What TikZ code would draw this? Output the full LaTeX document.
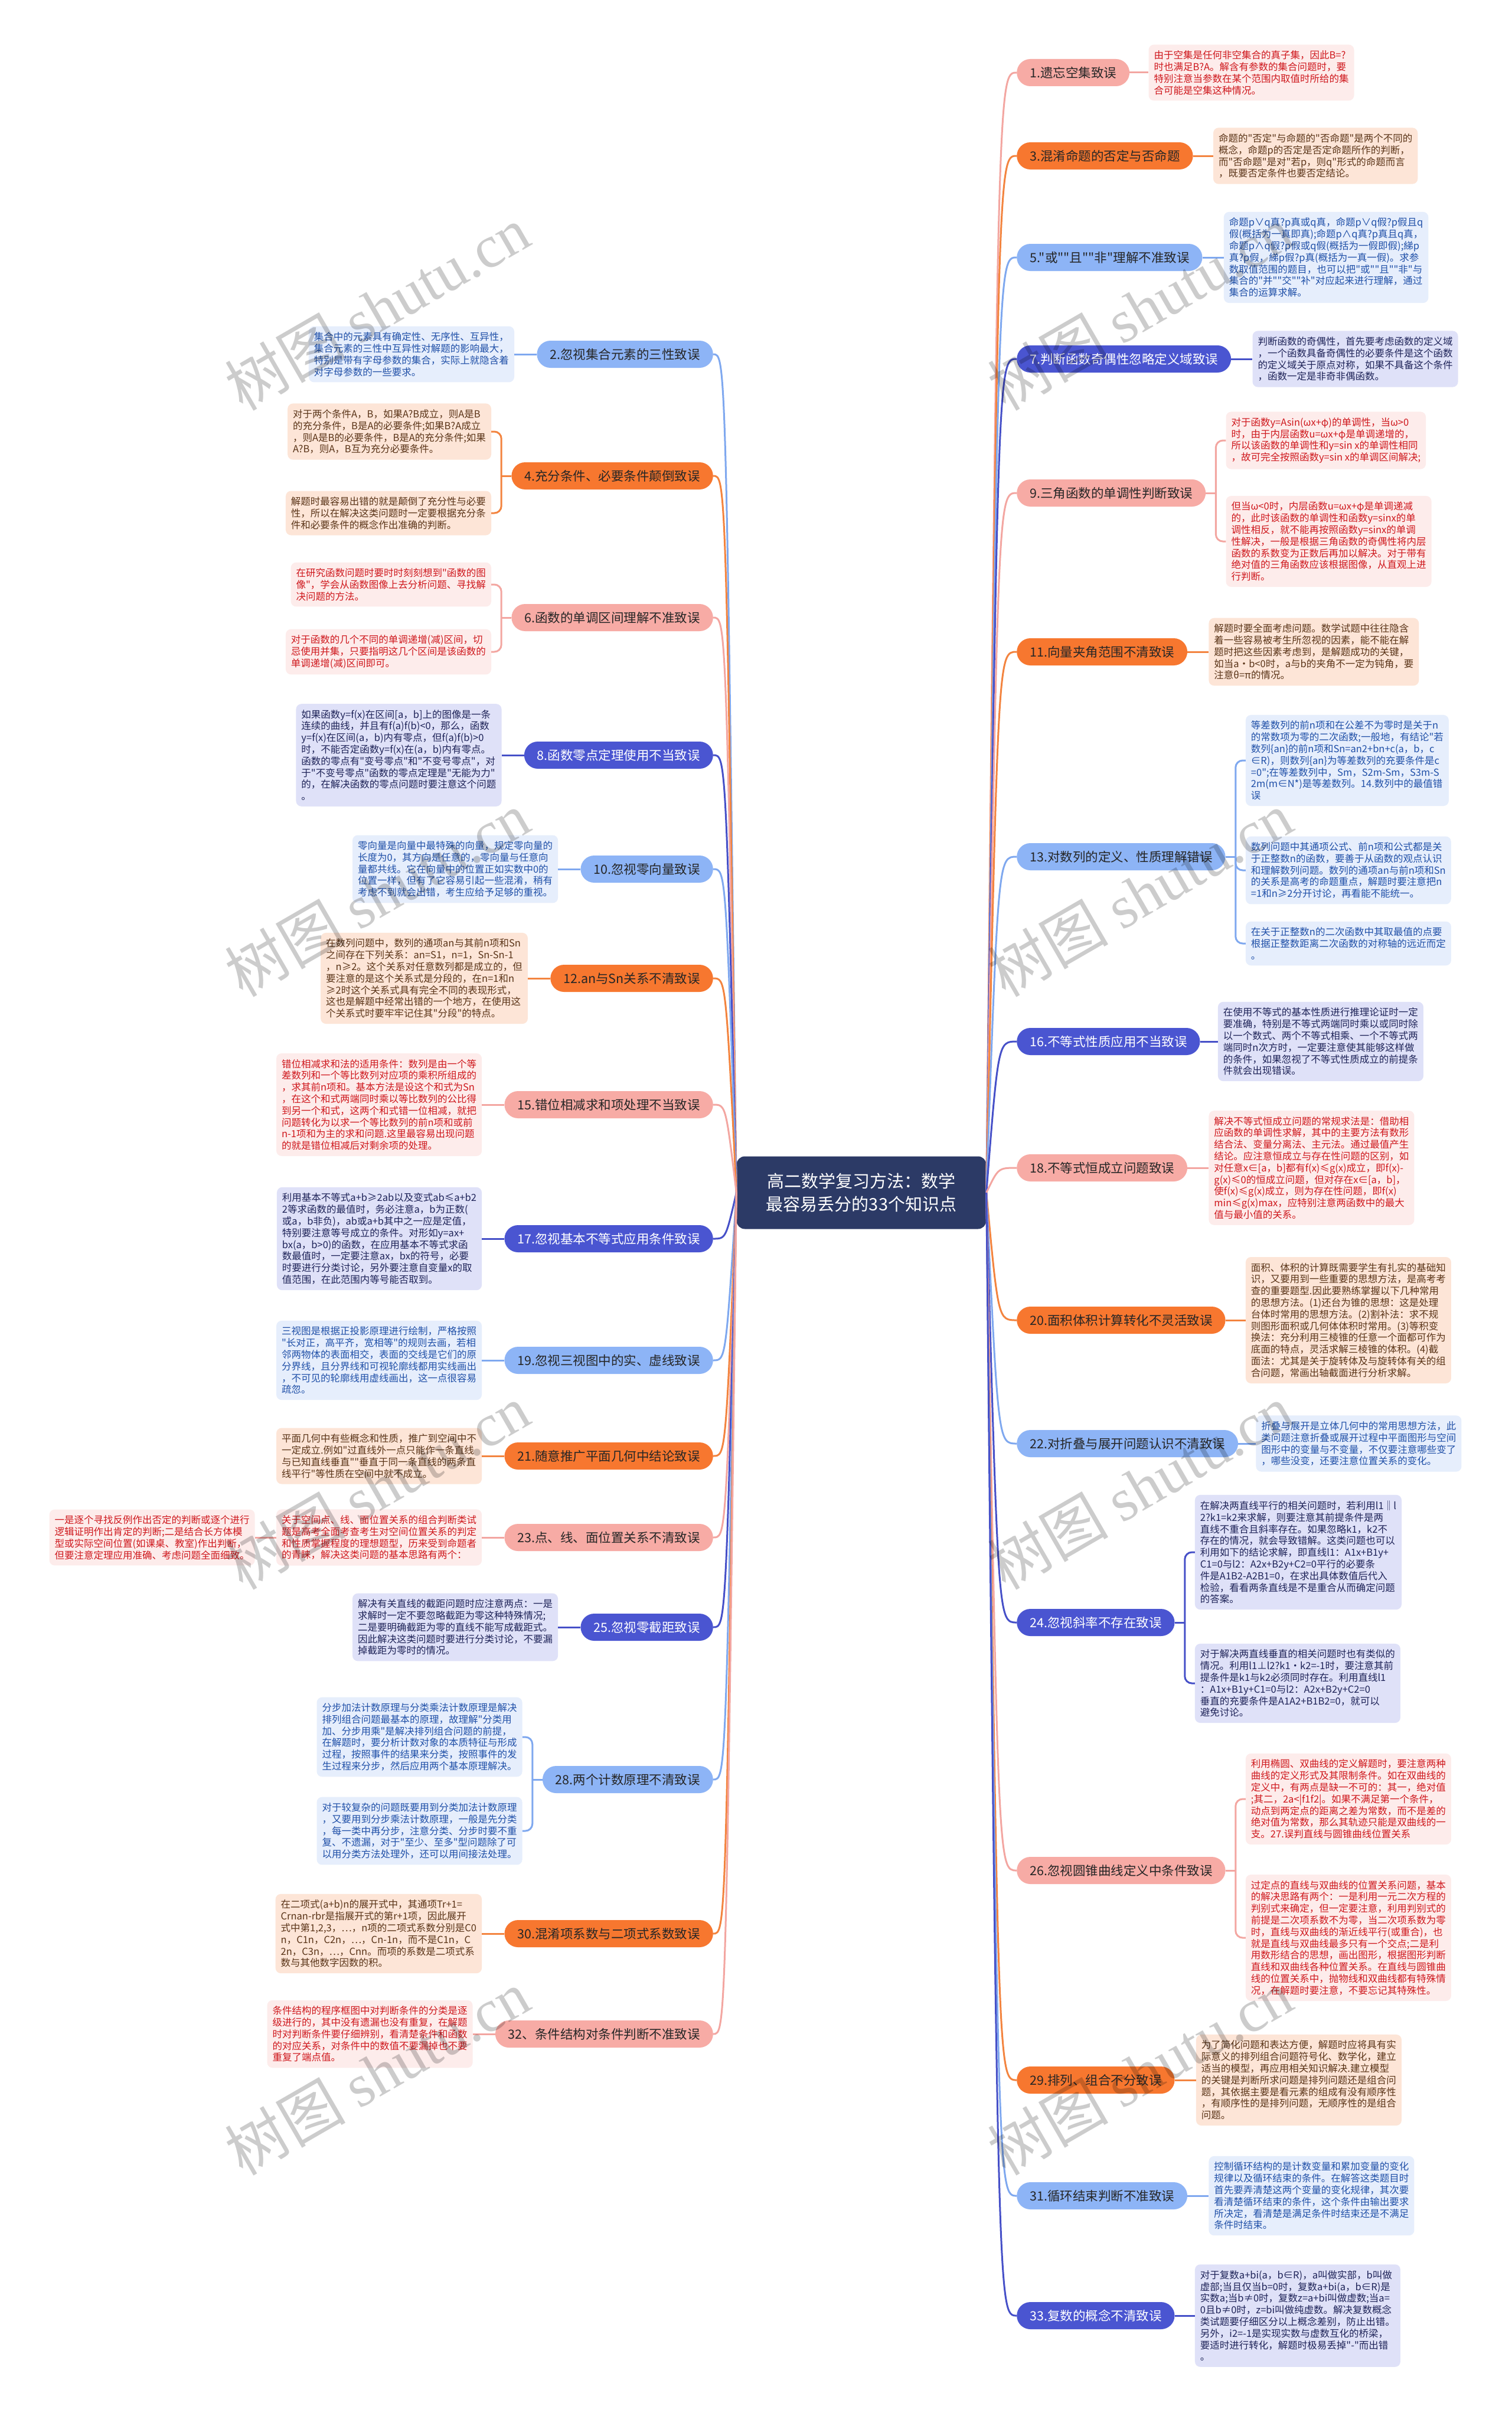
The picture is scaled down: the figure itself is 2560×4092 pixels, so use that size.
\documentclass[tikz,border=0pt]{standalone}
\usepackage{fontspec}
\setmainfont{Noto Sans CJK SC}[Ligatures=TeXOff]
\newfontfamily\wmserif{Liberation Serif}
\usetikzlibrary{calc}
\definecolor{cenF}{HTML}{2C3A66}
\definecolor{pkF}{HTML}{F7ABA5}
\definecolor{orF}{HTML}{F7772F}
\definecolor{blF}{HTML}{8DB4F6}
\definecolor{inF}{HTML}{4A55D1}
\definecolor{pkL}{HTML}{F3A6A1}
\definecolor{orL}{HTML}{F3843F}
\definecolor{blL}{HTML}{7FA8EF}
\definecolor{inL}{HTML}{4650C8}
\definecolor{pkN}{HTML}{FDECEB}
\definecolor{orN}{HTML}{FDE5D7}
\definecolor{blN}{HTML}{E6EEFC}
\definecolor{inN}{HTML}{DFE1F8}
\definecolor{pkT}{HTML}{CF181D}
\definecolor{orT}{HTML}{5A3418}
\definecolor{blT}{HTML}{2050A8}
\definecolor{inT}{HTML}{1E2358}
\definecolor{txD}{HTML}{262626}
\begin{document}
\begin{tikzpicture}[x=1pt,y=-1pt,
  br/.style={rounded corners=23pt, minimum height=46pt, inner xsep=22pt, inner ysep=4pt, font=\fontsize{21.5}{25}\selectfont},
  nt/.style={rounded corners=9pt, inner xsep=9pt, inner ysep=10pt, align=left, font=\fontsize{16.5}{19.8}\selectfont},
  brpk/.style={br, fill=pkF, text=txD},
  bror/.style={br, fill=orF, text=txD},
  brbl/.style={br, fill=blF, text=txD},
  brin/.style={br, fill=inF, text=white},
  ntpk/.style={nt, fill=pkN, text=pkT},
  ntor/.style={nt, fill=orN, text=orT},
  ntbl/.style={nt, fill=blN, text=blT},
  ntin/.style={nt, fill=inN, text=inT},
  lpk/.style={draw=pkL, line width=3pt},
  lor/.style={draw=orL, line width=3pt},
  lbl/.style={draw=blL, line width=3pt},
  lin/.style={draw=inL, line width=3pt},
  wm/.style={text=black, text opacity=0.2, font=\fontsize{102}{110}\selectfont, rotate=30}
]
\fill[white] (0,0) rectangle (2560,4092);
\useasboundingbox (0,0) rectangle (2560,4092);

% centre
\node[fill=cenF, text=white, rounded corners=14pt, minimum width=423pt, minimum height=123pt, align=center, font=\fontsize{29}{39}\selectfont] (c) at (1459,2020) {高二数学复习方法：数学\\最容易丢分的33个知识点};
\coordinate (cr) at ([xshift=20pt]c.east);
\coordinate (cl) at ([xshift=-18pt]c.west);

% ================= RIGHT =================
\node[brpk, anchor=west] (b1) at (1722,123) {1.遗忘空集致误};
\node[ntpk, anchor=west] (n1) at ([xshift=32pt]b1.east) {由于空集是任何非空集合的真子集，因此B=?\\时也满足B?A。解含有参数的集合问题时，要\\特别注意当参数在某个范围内取值时所给的集\\合可能是空集这种情况。};
\draw[lpk] (b1.east) -- (n1.west);

\node[bror, anchor=west] (b3) at (1722,264) {3.混淆命题的否定与否命题};
\node[ntor, anchor=west] (n3) at ([xshift=34pt]b3.east) {命题的"否定"与命题的"否命题"是两个不同的\\概念，命题p的否定是否定命题所作的判断，\\而"否命题"是对"若p，则q"形式的命题而言\\，既要否定条件也要否定结论。};
\draw[lor] (b3.east) -- (n3.west);

\node[brbl, anchor=west] (b5) at (1722,436) {5."或""且""非"理解不准致误};
\node[ntbl, anchor=west] (n5) at ([xshift=36pt]b5.east) {命题p∨q真?p真或q真，命题p∨q假?p假且q\\假(概括为一真即真);命题p∧q真?p真且q真，\\命题p∧q假?p假或q假(概括为一假即假);綈p\\真?p假，綈p假?p真(概括为一真一假)。求参\\数取值范围的题目，也可以把"或""且""非"与\\集合的"并""交""补"对应起来进行理解，通过\\集合的运算求解。};
\draw[lbl] (b5.east) -- (n5.west);

\node[brin, anchor=west] (b7) at (1722,608) {7.判断函数奇偶性忽略定义域致误};
\node[ntin, anchor=west] (n7) at ([xshift=36pt]b7.east) {判断函数的奇偶性，首先要考虑函数的定义域\\，一个函数具备奇偶性的必要条件是这个函数\\的定义域关于原点对称，如果不具备这个条件\\，函数一定是非奇非偶函数。};
\draw[lin] (b7.east) -- (n7.west);

\node[brpk, anchor=west] (b9) at (1722,835) {9.三角函数的单调性判断致误};
\coordinate (k9) at ([xshift=17pt]b9.east);
\coordinate (t9) at ([xshift=34pt]b9.east);
\node[ntpk, anchor=west] (n9a) at (t9 |- 0,746) {对于函数y=Asin(ωx+φ)的单调性，当ω>0\\时，由于内层函数u=ωx+φ是单调递增的，\\所以该函数的单调性和y=sin x的单调性相同\\，故可完全按照函数y=sin x的单调区间解决;};
\node[ntpk, anchor=west] (n9b) at (t9 |- 0,917) {但当ω<0时，内层函数u=ωx+φ是单调递减\\的，此时该函数的单调性和函数y=sinx的单\\调性相反，就不能再按照函数y=sinx的单调\\性解决，一般是根据三角函数的奇偶性将内层\\函数的系数变为正数后再加以解决。对于带有\\绝对值的三角函数应该根据图像，从直观上进\\行判断。};
\draw[lpk] (b9.east) -- (k9);
\draw[lpk, rounded corners=12pt] (k9) |- (n9a.west);
\draw[lpk, rounded corners=12pt] (k9) |- (n9b.west);

\node[bror, anchor=west] (b11) at (1722,1104) {11.向量夹角范围不清致误};
\node[ntor, anchor=west] (n11) at ([xshift=36pt]b11.east) {解题时要全面考虑问题。数学试题中往往隐含\\着一些容易被考生所忽视的因素，能不能在解\\题时把这些因素考虑到，是解题成功的关键，\\如当a·b<0时，a与b的夹角不一定为钝角，要\\注意θ=π的情况。};
\draw[lor] (b11.east) -- (n11.west);

\node[brbl, anchor=west] (b13) at (1722,1451) {13.对数列的定义、性质理解错误};
\coordinate (k13) at ([xshift=17pt]b13.east);
\coordinate (t13) at ([xshift=34pt]b13.east);
\node[ntbl, anchor=west] (n13a) at (t13 |- 0,1288) {等差数列的前n项和在公差不为零时是关于n\\的常数项为零的二次函数;一般地，有结论"若\\数列\{an\}的前n项和Sn=an2+bn+c(a，b，c\\∈R)，则数列\{an\}为等差数列的充要条件是c\\=0";在等差数列中，Sm，S2m-Sm，S3m-S\\2m(m∈N*)是等差数列。14.数列中的最值错\\误};
\node[ntbl, anchor=west] (n13b) at (t13 |- 0,1474) {数列问题中其通项公式、前n项和公式都是关\\于正整数n的函数，要善于从函数的观点认识\\和理解数列问题。数列的通项an与前n项和Sn\\的关系是高考的命题重点，解题时要注意把n\\=1和n≥2分开讨论，再看能不能统一。};
\node[ntbl, anchor=west] (n13c) at (t13 |- 0,1598) {在关于正整数n的二次函数中其取最值的点要\\根据正整数距离二次函数的对称轴的远近而定\\。};
\draw[lbl] (b13.east) -- (k13);
\draw[lbl, rounded corners=12pt] (k13) |- (n13a.west);
\draw[lbl, rounded corners=12pt] (k13) |- (n13b.west);
\draw[lbl, rounded corners=12pt] (k13) |- (n13c.west);

\node[brin, anchor=west] (b16) at (1722,1764) {16.不等式性质应用不当致误};
\node[ntin, anchor=west] (n16) at ([xshift=30pt]b16.east) {在使用不等式的基本性质进行推理论证时一定\\要准确，特别是不等式两端同时乘以或同时除\\以一个数式、两个不等式相乘、一个不等式两\\端同时n次方时，一定要注意使其能够这样做\\的条件，如果忽视了不等式性质成立的前提条\\件就会出现错误。};
\draw[lin] (b16.east) -- (n16.west);

\node[brpk, anchor=west] (b18) at (1722,1978) {18.不等式恒成立问题致误};
\node[ntpk, anchor=west] (n18) at ([xshift=36pt]b18.east) {解决不等式恒成立问题的常规求法是：借助相\\应函数的单调性求解，其中的主要方法有数形\\结合法、变量分离法、主元法。通过最值产生\\结论。应注意恒成立与存在性问题的区别，如\\对任意x∈[a，b]都有f(x)≤g(x)成立，即f(x)-\\g(x)≤0的恒成立问题，但对存在x∈[a，b]，\\使f(x)≤g(x)成立，则为存在性问题，即f(x)\\min≤g(x)max，应特别注意两函数中的最大\\值与最小值的关系。};
\draw[lpk] (b18.east) -- (n18.west);

\node[bror, anchor=west] (b20) at (1722,2236) {20.面积体积计算转化不灵活致误};
\node[ntor, anchor=west] (n20) at ([xshift=34pt]b20.east) {面积、体积的计算既需要学生有扎实的基础知\\识，又要用到一些重要的思想方法，是高考考\\查的重要题型.因此要熟练掌握以下几种常用\\的思想方法。(1)还台为锥的思想：这是处理\\台体时常用的思想方法。(2)割补法：求不规\\则图形面积或几何体体积时常用。(3)等积变\\换法：充分利用三棱锥的任意一个面都可作为\\底面的特点，灵活求解三棱锥的体积。(4)截\\面法：尤其是关于旋转体及与旋转体有关的组\\合问题，常画出轴截面进行分析求解。};
\draw[lor] (b20.east) -- (n20.west);

\node[brbl, anchor=west] (b22) at (1722,2445) {22.对折叠与展开问题认识不清致误};
\node[ntbl, anchor=west] (n22) at ([xshift=30pt]b22.east) {折叠与展开是立体几何中的常用思想方法，此\\类问题注意折叠或展开过程中平面图形与空间\\图形中的变量与不变量，不仅要注意哪些变了\\，哪些没变，还要注意位置关系的变化。};
\draw[lbl] (b22.east) -- (n22.west);

\node[brin, anchor=west] (b24) at (1722,2748) {24.忽视斜率不存在致误};
\coordinate (k24) at ([xshift=17pt]b24.east);
\coordinate (t24) at ([xshift=34pt]b24.east);
\node[ntin, anchor=west] (n24a) at (t24 |- 0,2629) {在解决两直线平行的相关问题时，若利用l1‖l\\2?k1=k2来求解，则要注意其前提条件是两\\直线不重合且斜率存在。如果忽略k1，k2不\\存在的情况，就会导致错解。这类问题也可以\\利用如下的结论求解，即直线l1：A1x+B1y+\\C1=0与l2：A2x+B2y+C2=0平行的必要条\\件是A1B2-A2B1=0，在求出具体数值后代入\\检验，看看两条直线是不是重合从而确定问题\\的答案。};
\node[ntin, anchor=west] (n24b) at (t24 |- 0,2851) {对于解决两直线垂直的相关问题时也有类似的\\情况。利用l1⊥l2?k1·k2=-1时，要注意其前\\提条件是k1与k2必须同时存在。利用直线l1\\：A1x+B1y+C1=0与l2：A2x+B2y+C2=0\\垂直的充要条件是A1A2+B1B2=0，就可以\\避免讨论。};
\draw[lin] (b24.east) -- (k24);
\draw[lin, rounded corners=12pt] (k24) |- (n24a.west);
\draw[lin, rounded corners=12pt] (k24) |- (n24b.west);

\node[brpk, anchor=west] (b26) at (1722,3168) {26.忽视圆锥曲线定义中条件致误};
\coordinate (k26) at ([xshift=17pt]b26.east);
\coordinate (t26) at ([xshift=34pt]b26.east);
\node[ntpk, anchor=west] (n26a) at (t26 |- 0,3047) {利用椭圆、双曲线的定义解题时，要注意两种\\曲线的定义形式及其限制条件。如在双曲线的\\定义中，有两点是缺一不可的：其一，绝对值\\;其二，2a<|f1f2|。如果不满足第一个条件，\\动点到两定点的距离之差为常数，而不是差的\\绝对值为常数，那么其轨迹只能是双曲线的一\\支。27.误判直线与圆锥曲线位置关系};
\node[ntpk, anchor=west] (n26b) at (t26 |- 0,3282) {过定点的直线与双曲线的位置关系问题，基本\\的解决思路有两个：一是利用一元二次方程的\\判别式来确定，但一定要注意，利用判别式的\\前提是二次项系数不为零，当二次项系数为零\\时，直线与双曲线的渐近线平行(或重合)，也\\就是直线与双曲线最多只有一个交点;二是利\\用数形结合的思想，画出图形，根据图形判断\\直线和双曲线各种位置关系。在直线与圆锥曲\\线的位置关系中，抛物线和双曲线都有特殊情\\况，在解题时要注意，不要忘记其特殊性。};
\draw[lpk] (b26.east) -- (k26);
\draw[lpk, rounded corners=12pt] (k26) |- (n26a.west);
\draw[lpk, rounded corners=12pt] (k26) |- (n26b.west);

\node[bror, anchor=west] (b29) at (1722,3523) {29.排列、组合不分致误};
\node[ntor, anchor=west] (n29) at ([xshift=36pt]b29.east) {为了简化问题和表达方便，解题时应将具有实\\际意义的排列组合问题符号化、数学化，建立\\适当的模型，再应用相关知识解决.建立模型\\的关键是判断所求问题是排列问题还是组合问\\题，其依据主要是看元素的组成有没有顺序性\\，有顺序性的是排列问题，无顺序性的是组合\\问题。};
\draw[lor] (b29.east) -- (n29.west);

\node[brbl, anchor=west] (b31) at (1722,3719) {31.循环结束判断不准致误};
\node[ntbl, anchor=west] (n31) at ([xshift=36pt]b31.east) {控制循环结构的是计数变量和累加变量的变化\\规律以及循环结束的条件。在解答这类题目时\\首先要弄清楚这两个变量的变化规律，其次要\\看清楚循环结束的条件，这个条件由输出要求\\所决定，看清楚是满足条件时结束还是不满足\\条件时结束。};
\draw[lbl] (b31.east) -- (n31.west);

\node[brin, anchor=west] (b33) at (1722,3922) {33.复数的概念不清致误};
\node[ntin, anchor=west] (n33) at ([xshift=34pt]b33.east) {对于复数a+bi(a，b∈R)，a叫做实部，b叫做\\虚部;当且仅当b=0时，复数a+bi(a，b∈R)是\\实数a;当b≠0时，复数z=a+bi叫做虚数;当a=\\0且b≠0时，z=bi叫做纯虚数。解决复数概念\\类试题要仔细区分以上概念差别，防止出错。\\另外，i2=-1是实现实数与虚数互化的桥梁，\\要适时进行转化，解题时极易丢掉"-"而出错\\。};
\draw[lin] (b33.east) -- (n33.west);

% ================= LEFT =================
\node[brbl, anchor=east] (b2) at (1208,600) {2.忽视集合元素的三性致误};
\node[ntbl, anchor=east] (n2) at ([xshift=-38pt]b2.west) {集合中的元素具有确定性、无序性、互异性，\\集合元素的三性中互异性对解题的影响最大，\\特别是带有字母参数的集合，实际上就隐含着\\对字母参数的一些要求。};
\draw[lbl] (b2.west) -- (n2.east);

\node[bror, anchor=east] (b4) at (1208,806) {4.充分条件、必要条件颠倒致误};
\coordinate (k4) at ([xshift=-17pt]b4.west);
\coordinate (t4) at ([xshift=-34pt]b4.west);
\node[ntor, anchor=east] (n4a) at (t4 |- 0,731) {对于两个条件A，B，如果A?B成立，则A是B\\的充分条件，B是A的必要条件;如果B?A成立\\，则A是B的必要条件，B是A的充分条件;如果\\A?B，则A，B互为充分必要条件。};
\node[ntor, anchor=east] (n4b) at (t4 |- 0,869) {解题时最容易出错的就是颠倒了充分性与必要\\性，所以在解决这类问题时一定要根据充分条\\件和必要条件的概念作出准确的判断。};
\draw[lor] (b4.west) -- (k4);
\draw[lor, rounded corners=12pt] (k4) |- (n4a.east);
\draw[lor, rounded corners=12pt] (k4) |- (n4b.east);

\node[brpk, anchor=east] (b6) at (1208,1046) {6.函数的单调区间理解不准致误};
\coordinate (k6) at ([xshift=-17pt]b6.west);
\coordinate (t6) at ([xshift=-34pt]b6.west);
\node[ntpk, anchor=east] (n6a) at (t6 |- 0,990) {在研究函数问题时要时时刻刻想到"函数的图\\像"，学会从函数图像上去分析问题、寻找解\\决问题的方法。};
\node[ntpk, anchor=east] (n6b) at (t6 |- 0,1104) {对于函数的几个不同的单调递增(减)区间，切\\忌使用并集，只要指明这几个区间是该函数的\\单调递增(减)区间即可。};
\draw[lpk] (b6.west) -- (k6);
\draw[lpk, rounded corners=12pt] (k6) |- (n6a.east);
\draw[lpk, rounded corners=12pt] (k6) |- (n6b.east);

\node[brin, anchor=east] (b8) at (1208,1279) {8.函数零点定理使用不当致误};
\node[ntin, anchor=east] (n8) at ([xshift=-38pt]b8.west) {如果函数y=f(x)在区间[a，b]上的图像是一条\\连续的曲线，并且有f(a)f(b)<0，那么，函数\\y=f(x)在区间(a，b)内有零点，但f(a)f(b)>0\\时，不能否定函数y=f(x)在(a，b)内有零点。\\函数的零点有"变号零点"和"不变号零点"，对\\于"不变号零点"函数的零点定理是"无能为力"\\的，在解决函数的零点问题时要注意这个问题\\。};
\draw[lin] (b8.west) -- (n8.east);

\node[brbl, anchor=east] (b10) at (1208,1472) {10.忽视零向量致误};
\node[ntbl, anchor=east] (n10) at ([xshift=-38pt]b10.west) {零向量是向量中最特殊的向量，规定零向量的\\长度为0，其方向是任意的，零向量与任意向\\量都共线。它在向量中的位置正如实数中0的\\位置一样，但有了它容易引起一些混淆，稍有\\考虑不到就会出错，考生应给予足够的重视。};
\draw[lbl] (b10.west) -- (n10.east);

\node[bror, anchor=east] (b12) at (1208,1657) {12.an与Sn关系不清致误};
\node[ntor, anchor=east] (n12) at ([xshift=-38pt]b12.west) {在数列问题中，数列的通项an与其前n项和Sn\\之间存在下列关系：an=S1，n=1，Sn-Sn-1\\，n≥2。这个关系对任意数列都是成立的，但\\要注意的是这个关系式是分段的，在n=1和n\\≥2时这个关系式具有完全不同的表现形式，\\这也是解题中经常出错的一个地方，在使用这\\个关系式时要牢牢记住其"分段"的特点。};
\draw[lor] (b12.west) -- (n12.east);

\node[brpk, anchor=east] (b15) at (1208,1871) {15.错位相减求和项处理不当致误};
\node[ntpk, anchor=east] (n15) at ([xshift=-38pt]b15.west) {错位相减求和法的适用条件：数列是由一个等\\差数列和一个等比数列对应项的乘积所组成的\\，求其前n项和。基本方法是设这个和式为Sn\\，在这个和式两端同时乘以等比数列的公比得\\到另一个和式，这两个和式错一位相减，就把\\问题转化为以求一个等比数列的前n项和或前\\n-1项和为主的求和问题.这里最容易出现问题\\的就是错位相减后对剩余项的处理。};
\draw[lpk] (b15.west) -- (n15.east);

\node[brin, anchor=east] (b17) at (1208,2098) {17.忽视基本不等式应用条件致误};
\node[ntin, anchor=east] (n17) at ([xshift=-38pt]b17.west) {利用基本不等式a+b≥2ab以及变式ab≤a+b2\\2等求函数的最值时，务必注意a，b为正数(\\或a，b非负)，ab或a+b其中之一应是定值，\\特别要注意等号成立的条件。对形如y=ax+\\bx(a，b>0)的函数，在应用基本不等式求函\\数最值时，一定要注意ax，bx的符号，必要\\时要进行分类讨论，另外要注意自变量x的取\\值范围，在此范围内等号能否取到。};
\draw[lin] (b17.west) -- (n17.east);

\node[brbl, anchor=east] (b19) at (1208,2304) {19.忽视三视图中的实、虚线致误};
\node[ntbl, anchor=east] (n19) at ([xshift=-38pt]b19.west) {三视图是根据正投影原理进行绘制，严格按照\\"长对正，高平齐，宽相等"的规则去画，若相\\邻两物体的表面相交，表面的交线是它们的原\\分界线，且分界线和可视轮廓线都用实线画出\\，不可见的轮廓线用虚线画出，这一点很容易\\疏忽。};
\draw[lbl] (b19.west) -- (n19.east);

\node[bror, anchor=east] (b21) at (1208,2466) {21.随意推广平面几何中结论致误};
\node[ntor, anchor=east] (n21) at ([xshift=-38pt]b21.west) {平面几何中有些概念和性质，推广到空间中不\\一定成立.例如"过直线外一点只能作一条直线\\与已知直线垂直""垂直于同一条直线的两条直\\线平行"等性质在空间中就不成立。};
\draw[lor] (b21.west) -- (n21.east);

\node[brpk, anchor=east] (b23) at (1208,2604) {23.点、线、面位置关系不清致误};
\node[ntpk, anchor=east] (n23) at ([xshift=-38pt]b23.west) {关于空间点、线、面位置关系的组合判断类试\\题是高考全面考查考生对空间位置关系的判定\\和性质掌握程度的理想题型，历来受到命题者\\的青睐，解决这类问题的基本思路有两个：};
\node[ntpk, anchor=east] (n23s) at ([xshift=-36pt]n23.west) {一是逐个寻找反例作出否定的判断或逐个进行\\逻辑证明作出肯定的判断;二是结合长方体模\\型或实际空间位置(如课桌、教室)作出判断，\\但要注意定理应用准确、考虑问题全面细致。};
\draw[lpk] (b23.west) -- (n23.east);
\draw[lpk] (n23.west) -- (n23s.east);

\node[brin, anchor=east] (b25) at (1208,2756) {25.忽视零截距致误};
\node[ntin, anchor=east] (n25) at ([xshift=-38pt]b25.west) {解决有关直线的截距问题时应注意两点：一是\\求解时一定不要忽略截距为零这种特殊情况;\\二是要明确截距为零的直线不能写成截距式。\\因此解决这类问题时要进行分类讨论，不要漏\\掉截距为零时的情况。};
\draw[lin] (b25.west) -- (n25.east);

\node[brbl, anchor=east] (b28) at (1208,3014) {28.两个计数原理不清致误};
\coordinate (k28) at ([xshift=-17pt]b28.west);
\coordinate (t28) at ([xshift=-34pt]b28.west);
\node[ntbl, anchor=east] (n28a) at (t28 |- 0,2942) {分步加法计数原理与分类乘法计数原理是解决\\排列组合问题最基本的原理，故理解"分类用\\加、分步用乘"是解决排列组合问题的前提，\\在解题时，要分析计数对象的本质特征与形成\\过程，按照事件的结果来分类，按照事件的发\\生过程来分步，然后应用两个基本原理解决。};
\node[ntbl, anchor=east] (n28b) at (t28 |- 0,3101) {对于较复杂的问题既要用到分类加法计数原理\\，又要用到分步乘法计数原理，一般是先分类\\，每一类中再分步，注意分类、分步时要不重\\复、不遗漏，对于"至少、至多"型问题除了可\\以用分类方法处理外，还可以用间接法处理。};
\draw[lbl] (b28.west) -- (k28);
\draw[lbl, rounded corners=12pt] (k28) |- (n28a.east);
\draw[lbl, rounded corners=12pt] (k28) |- (n28b.east);

\node[bror, anchor=east] (b30) at (1208,3275) {30.混淆项系数与二项式系数致误};
\node[ntor, anchor=east] (n30) at ([xshift=-38pt]b30.west) {在二项式(a+b)n的展开式中，其通项Tr+1=\\Crnan-rbr是指展开式的第r+1项，因此展开\\式中第1,2,3，…，n项的二项式系数分别是C0\\n，C1n，C2n，…，Cn-1n，而不是C1n，C\\2n，C3n，…，Cnn。而项的系数是二项式系\\数与其他数字因数的积。};
\draw[lor] (b30.west) -- (n30.east);

\node[brpk, anchor=east] (b32) at (1208,3445) {32、条件结构对条件判断不准致误};
\node[ntpk, anchor=east] (n32) at ([xshift=-38pt]b32.west) {条件结构的程序框图中对判断条件的分类是逐\\级进行的，其中没有遗漏也没有重复，在解题\\时对判断条件要仔细辨别，看清楚条件和函数\\的对应关系，对条件中的数值不要漏掉也不要\\重复了端点值。};
\draw[lpk] (b32.west) -- (n32.east);

% ================= centre connectors =================
\foreach \b/\s in {b1/lpk,b3/lor,b5/lbl,b7/lin,b9/lpk,b11/lor,b13/lbl,b16/lin,b18/lpk,b20/lor,b22/lbl,b24/lin,b26/lpk,b29/lor,b31/lbl,b33/lin}{
  \draw[\s] (c.east) .. controls (cr |- \b.west) .. (\b.west);
}
\foreach \b/\s in {b2/lbl,b4/lor,b6/lpk,b8/lin,b10/lbl,b12/lor,b15/lpk,b17/lin,b19/lbl,b21/lor,b23/lpk,b25/lin,b28/lbl,b30/lor,b32/lpk}{
  \draw[\s] (c.west) .. controls (cl |- \b.east) .. (\b.east);
}

% ================= watermarks =================
\foreach \wx/\wy [count=\i] in {639/522,639/1514,639/2518,639/3510,1931/522,1931/1514,1931/2518,1931/3510}{
  \node[wm] (wm\i) at (\wx,\wy) {树图 {\wmserif shutu.cn}};
}
\end{tikzpicture}
\end{document}
